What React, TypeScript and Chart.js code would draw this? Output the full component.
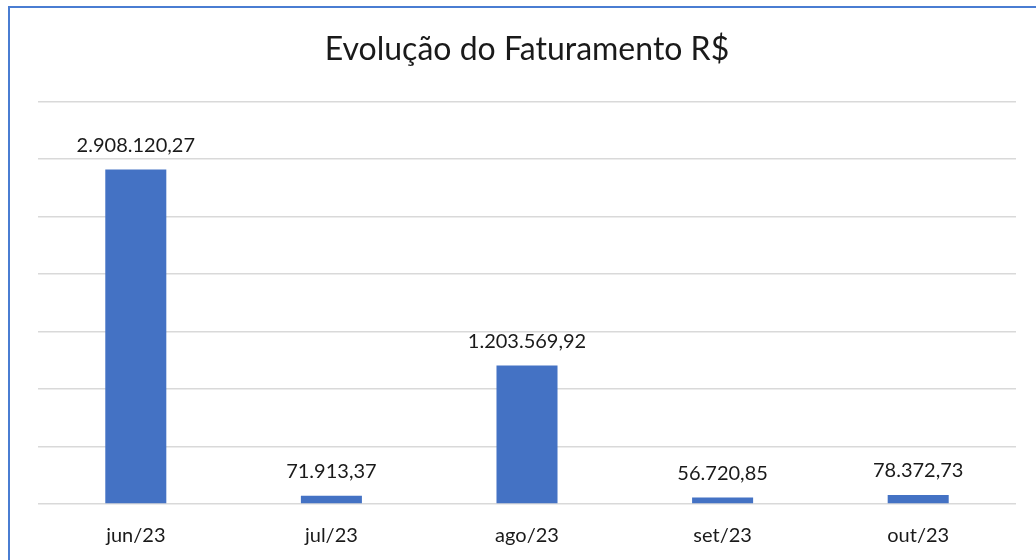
import React, { useEffect, useRef } from "react";
import { Chart, registerables } from "chart.js";

Chart.register(...registerables);

const title = "Evolução do Faturamento R$";
const categories = ["jun/23", "jul/23", "ago/23", "set/23", "out/23"];
const revenue = [2908120.27, 71913.37, 1203569.92, 56720.85, 78372.73];
const yMin = 0;
const yMax = 3500000;
const yStep = 500000;

function formatBR(v: number): string {
  const [int, dec] = v.toFixed(2).split(".");
  const withDots = int.replace(/\B(?=(\d{3})+(?!\d))/g, ".");
  return withDots + "," + dec;
}

const FONT = "Lato, 'Open Sans', sans-serif";

const valueLabels = {
  id: "valueLabels",
  afterDatasetsDraw(chart: any) {
    const ctx = chart.ctx;
    const meta = chart.getDatasetMeta(0);
    ctx.save();
    ctx.font = `20px ${FONT}`;
    ctx.fillStyle = "#1a1a1a";
    ctx.textAlign = "center";
    ctx.textBaseline = "middle";
    meta.data.forEach((el: any, i: number) => {
      const v = chart.data.datasets[0].data[i] as number;
      ctx.fillText(formatBR(v), el.x, el.y - 24);
    });
    ctx.restore();
  },
};

export default function App() {
  const ref = useRef<HTMLCanvasElement | null>(null);
  useEffect(() => {
    if (!ref.current) return;
    const chart = new Chart(ref.current, {
      type: "bar",
      data: {
        labels: categories,
        datasets: [
          {
            data: revenue,
            backgroundColor: "#4472C4",
            borderWidth: 0,
            barPercentage: 0.312,
            categoryPercentage: 1,
          },
        ],
      },
      options: {
        animation: false,
        responsive: false,
        maintainAspectRatio: false,
        layout: { padding: { left: 38, right: 20, top: 0, bottom: 14 } },
        plugins: {
          legend: { display: false },
          tooltip: { enabled: false },
          title: {
            display: true,
            text: title,
            color: "#1a1a1a",
            font: { family: FONT, size: 32, weight: "normal" },
            padding: { top: 30, bottom: 33 },
          },
        },
        scales: {
          x: {
            grid: { display: false },
            border: { display: false },
            ticks: {
              color: "#1a1a1a",
              font: { family: FONT, size: 20 },
              padding: 12,
            },
            afterFit(scale: any) {
              scale.height = 42;
            },
          },
          y: {
            min: yMin,
            max: yMax,
            ticks: { display: false, stepSize: yStep },
            border: { display: false },
            grid: { color: "#d9d9d9", lineWidth: 1.5, drawTicks: false },
          },
        },
      },
      plugins: [valueLabels],
    });
    return () => chart.destroy();
  }, []);

  return (
    <div
      style={{
        position: "fixed",
        left: 0,
        top: 0,
        width: 1036,
        height: 560,
        overflow: "hidden",
        background: "#fff",
      }}
    >
      <div
        style={{
          position: "absolute",
          left: 8,
          top: 6,
          width: 1100,
          height: 620,
          border: "2px solid #4a7dd2",
          boxSizing: "border-box",
        }}
      />
      <canvas
        ref={ref}
        width={1036}
        height={560}
        style={{ position: "absolute", left: 0, top: 0, width: 1036, height: 560 }}
      />
    </div>
  );
}
